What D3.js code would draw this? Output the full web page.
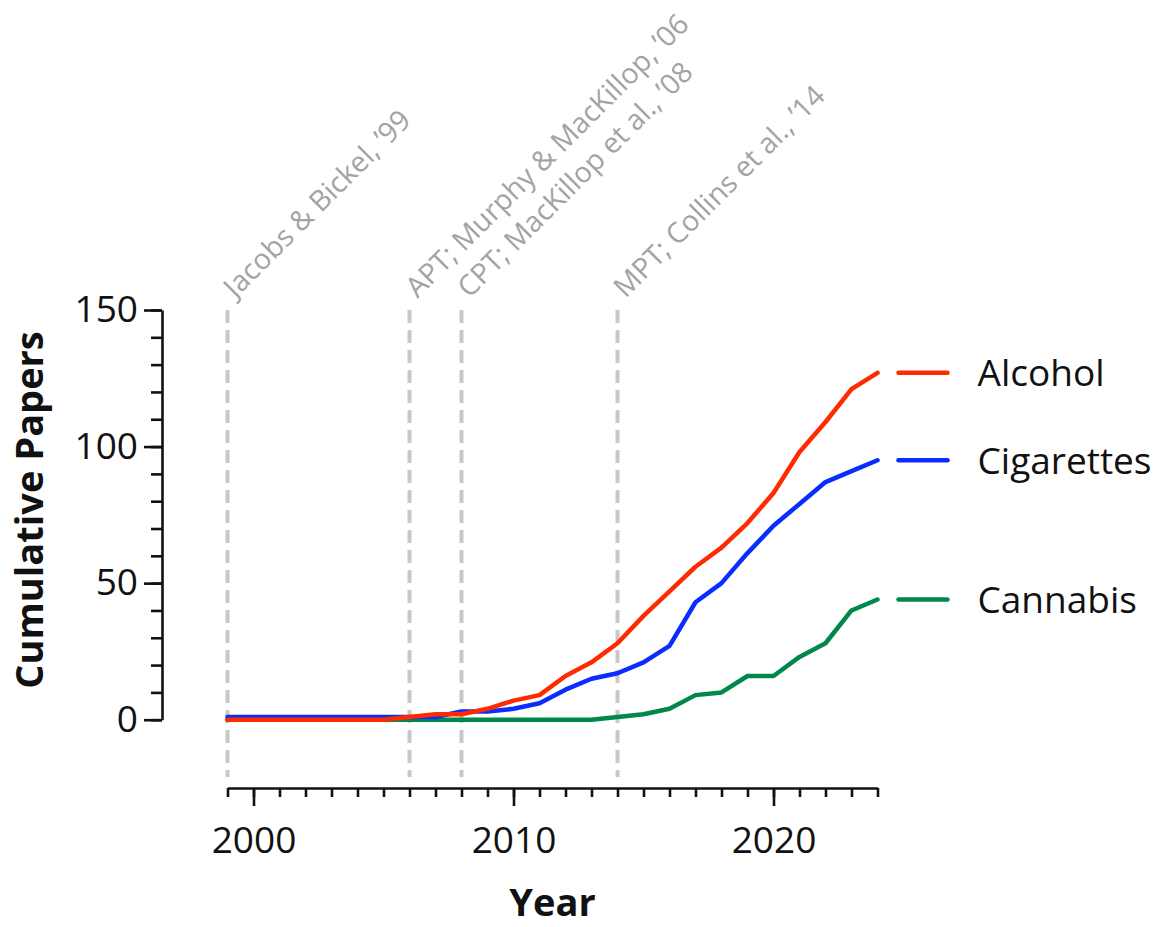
<!DOCTYPE html>
<html>
<head>
<meta charset="utf-8">
<script src="https://cdn.jsdelivr.net/npm/d3@7"></script>
<style>
  html, body { margin: 0; padding: 0; background: #fff; }
  svg { display: block; font-family: "Open Sans", sans-serif; }
</style>
</head>
<body>
<svg id="chart" width="1174" height="927"></svg>
<script>
// Cumulative count of published papers per substance, by year
const years = d3.range(1999, 2025);
const alcohol    = [0,0,0,0,0,0,0,1,2,2,4,7,9,16,21,28,38,47,56,63,72,83,98,109,121,127];
const cigarettes = [1,1,1,1,1,1,1,1,1,3,3,4,6,11,15,17,21,27,43,50,61,71,79,87,91,95];
const cannabis   = [0,0,0,0,0,0,0,0,0,0,0,0,0,0,0,1,2,4,9,10,16,16,23,28,40,44];

const seriesNames  = ["Alcohol", "Cigarettes", "Cannabis"];
const seriesValues = [alcohol, cigarettes, cannabis];
const seriesColors = ["#ff2a00", "#0a2dff", "#00874a"];

// Landmark papers introducing each purchase task
const markerYears  = [1999, 2006, 2008, 2014];
const markerLabels = ["Jacobs & Bickel, \u201999", "APT; Murphy & MacKillop, \u201906",
                      "CPT; MacKillop et al., \u201908", "MPT; Collins et al., \u201914"];

const yTicks      = d3.range(0, 151, 10);
const yMajorTicks = [0, 50, 100, 150];
const xMajorTicks = [2000, 2010, 2020];

const svg = d3.select("#chart");

const x = d3.scaleLinear().domain([1999, 2024]).range([227.5, 877.5]);
const y = d3.scaleLinear().domain([-25, 150]).range([788, 310]);
// y axis only spans the data range 0-150
const yAxisScale = d3.scaleLinear().domain([0, 150]).range([y(0), y(150)]);

// Dashed reference lines
svg.append("g").selectAll("line").data(markerYears).join("line")
  .attr("x1", d => x(d)).attr("x2", d => x(d))
  .attr("y1", y(150)).attr("y2", y(-21))
  .attr("stroke", "#c8c8c8").attr("stroke-width", 4)
  .attr("stroke-dasharray", "13,7");

svg.append("g").selectAll("text").data(markerYears).join("text")
  .attr("transform", d => `translate(${x(d) + 8},${y(150) - 11}) rotate(-45)`)
  .attr("fill", "#a3a3a3").attr("font-size", 28.5)
  .text((d, i) => markerLabels[i]);

// Y axis
const yMinor = svg.append("g").attr("transform", `translate(${162},0)`)
  .call(d3.axisLeft(yAxisScale).tickValues(yTicks).tickSize(11).tickSizeOuter(0).tickFormat(""));
const yMajor = svg.append("g").attr("transform", `translate(${162},0)`)
  .call(d3.axisLeft(yAxisScale).tickValues(yMajorTicks).tickSize(18).tickSizeOuter(0).tickPadding(6));
yMajor.select(".domain").remove();
yMajor.selectAll("text").attr("font-size", 37).attr("font-family", "Open Sans").attr("fill", "#111");

// X axis
const xMinor = svg.append("g").attr("transform", `translate(0,${y(-25)})`)
  .call(d3.axisBottom(x).tickValues(years).tickSize(9).tickSizeOuter(0).tickFormat(""));
const xMajor = svg.append("g").attr("transform", `translate(0,${y(-25)})`)
  .call(d3.axisBottom(x).tickValues(xMajorTicks).tickSize(18).tickSizeOuter(0).tickPadding(21).tickFormat(d3.format("d")));
xMajor.select(".domain").remove();
xMajor.selectAll("text").attr("font-size", 37).attr("font-family", "Open Sans").attr("fill", "#111");

svg.selectAll(".domain, .tick line").attr("stroke", "#111").attr("stroke-width", 2.6);

// Axis titles
svg.append("text")
  .attr("transform", `translate(${43},${510}) rotate(-90)`)
  .attr("text-anchor", "middle").attr("font-size", 38).attr("font-weight", 700)
  .attr("fill", "#111").text("Cumulative Papers");
svg.append("text")
  .attr("x", (x(1999) + x(2024)) / 2).attr("y", 916)
  .attr("text-anchor", "middle").attr("font-size", 38).attr("font-weight", 700)
  .attr("fill", "#111").text("Year");

// Series lines (cannabis first so alcohol sits on top)
const line = d3.line().x((d, i) => x(years[i])).y(d => y(d));
const order = [2, 1, 0];
svg.append("g").selectAll("path").data(order).join("path")
  .attr("d", k => line(seriesValues[k]))
  .attr("fill", "none").attr("stroke", k => seriesColors[k])
  .attr("stroke-width", 4.5).attr("stroke-linejoin", "round").attr("stroke-linecap", "round");

// Direct labels at each series' final value
const legend = svg.append("g").selectAll("g").data(seriesNames).join("g")
  .attr("transform", (d, i) => `translate(${x(2024)},${y(seriesValues[i][seriesValues[i].length - 1])})`);
legend.append("line")
  .attr("x1", 21).attr("x2", 70).attr("y1", 0).attr("y2", 0)
  .attr("stroke", (d, i) => seriesColors[i]).attr("stroke-width", 4.5).attr("stroke-linecap", "round");
legend.append("text")
  .attr("x", 100).attr("dy", "0.36em")
  .attr("font-size", 37).attr("fill", "#111").text(d => d);
</script>
</body>
</html>
